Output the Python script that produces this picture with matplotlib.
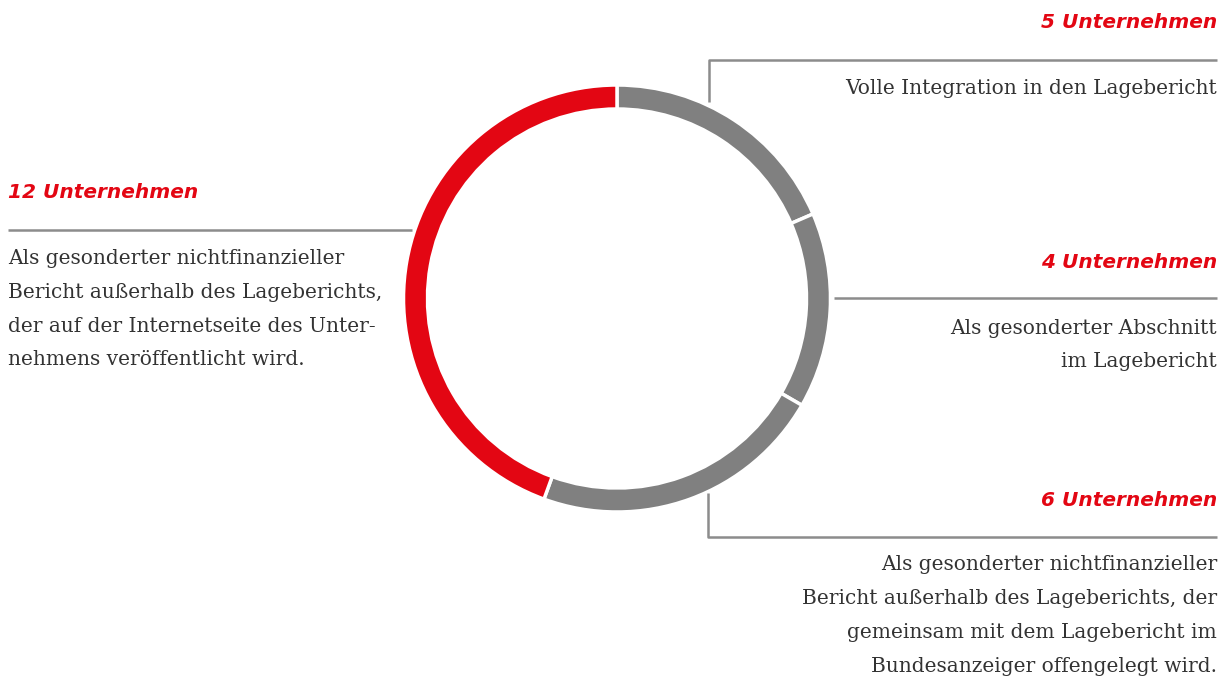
import matplotlib
matplotlib.use("Agg")
import matplotlib.pyplot as plt

# Data
counts = [5, 4, 6, 12]
headings = ["5 Unternehmen", "4 Unternehmen", "6 Unternehmen", "12 Unternehmen"]
descriptions = [
    ["Volle Integration in den Lagebericht"],
    ["Als gesonderter Abschnitt", "im Lagebericht"],
    ["Als gesonderter nichtfinanzieller",
     "Bericht außerhalb des Lageberichts, der",
     "gemeinsam mit dem Lagebericht im",
     "Bundesanzeiger offengelegt wird."],
    ["Als gesonderter nichtfinanzieller",
     "Bericht außerhalb des Lageberichts,",
     "der auf der Internetseite des Unter-",
     "nehmens veröffentlicht wird."],
]

RED = "#E30613"
GRAY = "#808080"
LINE = "#8C8C8C"
TXT = "#333333"
colors = [GRAY, GRAY, GRAY, RED]

W, H = 1229, 679
fig = plt.figure(figsize=(W / 100, H / 100), dpi=100)
ax = fig.add_axes([0, 0, 1, 1])

def Y(py):
    return H - py

cx, cy, R = 617, 298.5, 213.5
ax.pie(counts, colors=colors, startangle=90, counterclock=False, radius=R,
       center=(cx, Y(cy)), frame=True,
       wedgeprops=dict(width=24, edgecolor="white", linewidth=2.5))

ax.set_xlim(0, W)
ax.set_ylim(0, H)
ax.set_aspect("equal")
ax.axis("off")

head_font = dict(family="DejaVu Sans", fontsize=14.5, fontweight="bold",
                 fontstyle="oblique", color=RED)
body_font = dict(family="DejaVu Serif", fontsize=14.5, color=TXT)

lw = 1.8
# connector lines
ax.plot([709, 709, 1217], [Y(102), Y(60), Y(60)], color=LINE, lw=lw, solid_capstyle="butt")
ax.plot([8, 412], [Y(230), Y(230)], color=LINE, lw=lw, solid_capstyle="butt")
ax.plot([834, 1217], [Y(298), Y(298)], color=LINE, lw=lw, solid_capstyle="butt")
ax.plot([708, 708, 1217], [Y(493), Y(537), Y(537)], color=LINE, lw=lw, solid_capstyle="butt")

# headings
ax.text(1217, Y(23), headings[0], ha="right", va="center", **head_font)
ax.text(1217, Y(262), headings[1], ha="right", va="center", **head_font)
ax.text(1217, Y(500), headings[2], ha="right", va="center", **head_font)
ax.text(8, Y(193), headings[3], ha="left", va="center", **head_font)

def block(x, y0, lines, ha, step=33.5):
    for i, s in enumerate(lines):
        ax.text(x, Y(y0 + i * step), s, ha=ha, va="center", **body_font)

block(1217, 88, descriptions[0], "right")
block(1217, 328, descriptions[1], "right")
block(1217, 565, descriptions[2], "right", step=34)
block(8, 259, descriptions[3], "left")

fig.savefig("out.png", dpi=100)
